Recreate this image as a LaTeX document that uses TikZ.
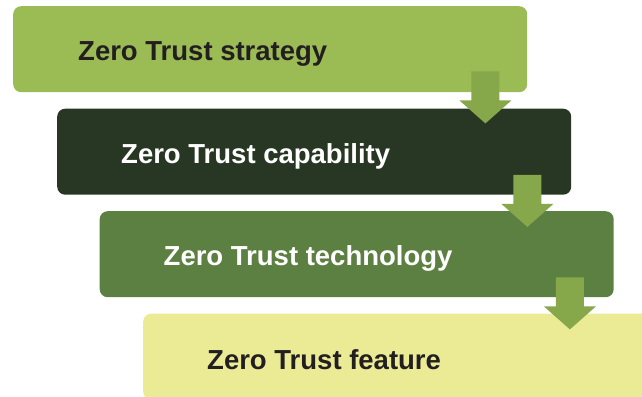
\documentclass[tikz,border=0pt]{standalone}
\usepackage{fontspec}
\setmainfont{Liberation Sans}
\usetikzlibrary{calc}
\definecolor{cone}{RGB}{155,187,85}
\definecolor{ctwo}{RGB}{40,55,35}
\definecolor{cthree}{RGB}{92,128,66}
\definecolor{cfour}{RGB}{235,235,150}
\definecolor{carrow}{RGB}{134,168,74}
\definecolor{cdark}{RGB}{35,31,32}
\tikzset{
  x=1pt, y=1pt,
  stagebox/.style={draw=none, rounded corners=8pt, minimum width=514pt, minimum height=86pt, anchor=north west, inner sep=0pt},
  stagetext/.style={anchor=base west, inner sep=0pt, font=\bfseries\fontsize{27.5}{31}\selectfont},
  blockarrow/.style={fill=carrow, draw=none}
}
\newcommand{\blockarr}[2]{%
  \fill[blockarrow] ($(#1)+(-14,0)$) -- ($(#1)+(14,0)$) -- ($(#1)+(14,-29)$) -- ($(#1)+(26,-29)$) -- (#2) -- ($(#1)+(-26,-29)$) -- ($(#1)+(-14,-29)$) -- cycle;}
\begin{document}
\begin{tikzpicture}
\useasboundingbox (0,0) rectangle (642,-396);
\clip (0,0) rectangle (642,-396);
\node[stagebox, fill=cone] (b1) at (13,-6) {};
\node[stagebox, fill=ctwo] (b2) at (57,-108.5) {};
\node[stagebox, fill=cthree] (b3) at (99.5,-211) {};
\node[stagebox, fill=cfour] (b4) at (143,-313.5) {};
\node[stagetext, text=cdark] (l1) at ($(b1.north west)+(65,-54.5)$) {Zero Trust strategy};
\node[stagetext, text=white] (l2) at ($(b2.north west)+(64,-54.5)$) {Zero Trust capability};
\node[stagetext, text=white] (l3) at ($(b3.north west)+(64,-54.5)$) {Zero Trust technology};
\node[stagetext, text=cdark] (l4) at ($(b4.north west)+(64,-55.5)$) {Zero Trust feature};
\coordinate (s1) at ($(b1.south east)+(-42,21)$);
\coordinate (t1) at ($(s1)+(0,-52)$);
\coordinate (s2) at ($(b2.south east)+(-44,20)$);
\coordinate (t2) at ($(s2)+(0,-52)$);
\coordinate (s3) at ($(b3.south east)+(-44,20)$);
\coordinate (t3) at ($(s3)+(0,-52)$);
\blockarr{s1}{t1}
\blockarr{s2}{t2}
\blockarr{s3}{t3}
\end{tikzpicture}
\end{document}
